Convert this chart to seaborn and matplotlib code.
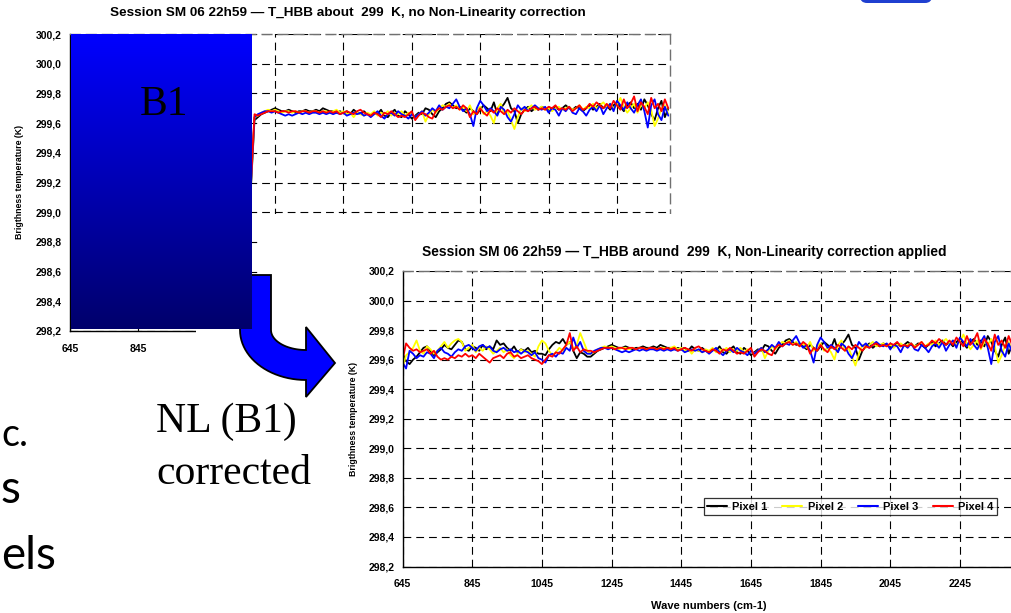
import numpy as np
import pandas as pd
import matplotlib
matplotlib.use('Agg')
import matplotlib.pyplot as plt
import seaborn as sns
from matplotlib.patches import Rectangle, Polygon, FancyBboxPatch
from matplotlib.transforms import Affine2D
from matplotlib.ticker import FuncFormatter, FixedLocator, MultipleLocator

sns.set_style('white')
plt.rcParams['font.family'] = ['Liberation Sans', 'DejaVu Sans']
plt.rcParams['font.weight'] = 'bold'
plt.rcParams['text.color'] = 'black'
plt.rcParams['xtick.color'] = 'black'
plt.rcParams['ytick.color'] = 'black'

W, H = 1011, 613

# wave numbers (cm-1): band B1 then B2
wn_b1 = list(range(645, 1176, 10))
wn_b2 = list(range(1185, 2396, 10))

pixels = ['Pixel 1', 'Pixel 2', 'Pixel 3', 'Pixel 4']
colors = ['#000000', '#ffff00', '#0000ff', '#ff0000']

# B1, no non-linearity correction (mostly hidden behind the B1 panel)
raw_p1 = [298.52, 298.48, 298.55, 298.58, 298.56, 298.61, 298.63, 298.60, 298.66, 298.68,
          298.67, 298.71, 298.73, 298.70, 298.75, 298.77, 298.76, 298.79, 298.81, 298.80,
          298.83, 298.85, 298.84, 298.87, 298.89, 298.88, 298.91, 298.90, 298.93, 298.94,
          298.92, 298.95, 298.97, 298.96, 298.99, 299.00, 298.98, 299.02, 299.03, 299.01,
          299.04, 299.06, 299.05, 299.08, 299.07, 299.10, 299.12, 299.09, 299.13, 299.15,
          299.14, 299.17, 299.16, 299.18]
raw_p2 = [298.44, 298.50, 298.53, 298.51, 298.57, 298.59, 298.58, 298.62, 298.64, 298.63,
          298.68, 298.69, 298.72, 298.71, 298.74, 298.76, 298.78, 298.77, 298.80, 298.82,
          298.81, 298.84, 298.86, 298.85, 298.88, 298.90, 298.89, 298.92, 298.91, 298.94,
          298.95, 298.93, 298.97, 298.98, 298.97, 299.01, 299.00, 299.03, 299.04, 299.06,
          299.05, 299.08, 299.07, 299.09, 299.11, 299.10, 299.13, 299.14, 299.12, 299.16,
          299.17, 299.15, 299.18, 299.19]
raw_p3 = [298.50, 298.47, 298.53, 298.56, 298.55, 298.58, 298.62, 298.61, 298.64, 298.66,
          298.69, 298.68, 298.72, 298.74, 298.73, 298.76, 298.78, 298.80, 298.79, 298.82,
          298.84, 298.83, 298.86, 298.88, 298.87, 298.90, 298.92, 298.91, 298.94, 298.95,
          298.94, 298.97, 298.96, 298.99, 299.01, 299.00, 299.02, 299.04, 299.03, 299.06,
          299.07, 299.05, 299.09, 299.08, 299.11, 299.12, 299.10, 299.14, 299.15, 299.13,
          299.16, 299.18, 299.17, 299.20]
raw_p4 = [298.58, 298.54, 298.57, 298.60, 298.62, 298.59, 298.64, 298.66, 298.65, 298.69,
          298.70, 298.72, 298.71, 298.75, 298.77, 298.76, 298.79, 298.81, 298.83, 298.82,
          298.85, 298.87, 298.86, 298.89, 298.91, 298.90, 298.93, 298.95, 298.94, 298.96,
          298.97, 298.99, 298.98, 299.01, 299.02, 299.00, 299.04, 299.05, 299.07, 299.06,
          299.08, 299.10, 299.09, 299.12, 299.13, 299.11, 299.14, 299.16, 299.15, 299.17,
          299.18, 299.16, 299.19, 299.22]

# B1, non-linearity correction applied
nl_p1 = [299.64, 299.59, 299.57, 299.60, 299.62, 299.65, 299.68, 299.69, 299.66, 299.63,
         299.65, 299.67, 299.70, 299.68, 299.67, 299.70, 299.73, 299.72, 299.67, 299.66,
         299.69, 299.68, 299.66, 299.70, 299.67, 299.69, 299.67, 299.73, 299.70, 299.71,
         299.68, 299.66, 299.69, 299.65, 299.67, 299.66, 299.68, 299.65, 299.66, 299.64,
         299.64, 299.63, 299.67, 299.70, 299.72, 299.71, 299.74, 299.70, 299.72, 299.66,
         299.61, 299.65, 299.64, 299.62]
nl_p2 = [299.55, 299.63, 299.65, 299.68, 299.73, 299.66, 299.64, 299.69, 299.67, 299.64,
         299.66, 299.69, 299.72, 299.68, 299.71, 299.73, 299.74, 299.72, 299.66, 299.68,
         299.70, 299.65, 299.68, 299.66, 299.69, 299.67, 299.64, 299.66, 299.68, 299.65,
         299.67, 299.63, 299.61, 299.64, 299.67, 299.65, 299.66, 299.64, 299.62, 299.69,
         299.73, 299.71, 299.66, 299.63, 299.65, 299.68, 299.66, 299.70, 299.72, 299.67,
         299.70, 299.78, 299.72, 299.66]
nl_p3 = [299.58, 299.54, 299.66, 299.64, 299.61, 299.63, 299.62, 299.65, 299.64, 299.61,
         299.66, 299.68, 299.65, 299.64, 299.62, 299.65, 299.67, 299.66, 299.69, 299.70,
         299.68, 299.66, 299.69, 299.70, 299.68, 299.69, 299.66, 299.65, 299.67, 299.68,
         299.66, 299.67, 299.65, 299.66, 299.64, 299.66, 299.65, 299.63, 299.65, 299.61,
         299.60, 299.58, 299.63, 299.64, 299.62, 299.65, 299.64, 299.68, 299.66, 299.75,
         299.68, 299.72, 299.66, 299.64]
nl_p4 = [299.60, 299.71, 299.68, 299.66, 299.67, 299.65, 299.66, 299.67, 299.64, 299.66,
         299.62, 299.60, 299.61, 299.60, 299.62, 299.61, 299.63, 299.62, 299.64, 299.62,
         299.63, 299.61, 299.64, 299.62, 299.60, 299.58, 299.61, 299.62, 299.63, 299.61,
         299.64, 299.65, 299.62, 299.63, 299.61, 299.62, 299.63, 299.61, 299.60, 299.59,
         299.57, 299.60, 299.63, 299.62, 299.65, 299.64, 299.67, 299.70, 299.78, 299.66,
         299.69, 299.65, 299.67, 299.66]

# B2 (same in both sessions)
b2_p1 = [299.62, 299.64, 299.66, 299.67, 299.68, 299.69, 299.70, 299.69, 299.68, 299.68,
         299.69, 299.68, 299.67, 299.68, 299.68, 299.69, 299.68, 299.68, 299.69, 299.68,
         299.70, 299.69, 299.68, 299.68, 299.67, 299.68, 299.67, 299.68, 299.66, 299.69,
         299.67, 299.66, 299.68, 299.66, 299.65, 299.67, 299.66, 299.69, 299.65, 299.64,
         299.67, 299.69, 299.65, 299.64, 299.68, 299.66, 299.63, 299.65, 299.67, 299.66,
         299.70, 299.69, 299.66, 299.64, 299.68, 299.70, 299.73, 299.74, 299.72, 299.70,
         299.71, 299.69, 299.67, 299.70, 299.68, 299.66, 299.69, 299.72, 299.70, 299.68,
         299.74, 299.66, 299.70, 299.73, 299.77, 299.70, 299.68, 299.60, 299.66, 299.69,
         299.71, 299.68, 299.70, 299.69, 299.71, 299.70, 299.69, 299.70, 299.71, 299.69,
         299.70, 299.72, 299.70, 299.69, 299.71, 299.70, 299.68, 299.70, 299.72, 299.69,
         299.71, 299.73, 299.70, 299.72, 299.69, 299.72, 299.74, 299.71, 299.68, 299.72,
         299.74, 299.70, 299.73, 299.69, 299.76, 299.72, 299.66, 299.62, 299.70, 299.75,
         299.64, 299.70]
b2_p2 = [299.64, 299.65, 299.67, 299.68, 299.69, 299.68, 299.69, 299.68, 299.67, 299.68,
         299.68, 299.67, 299.68, 299.67, 299.68, 299.68, 299.67, 299.68, 299.68, 299.67,
         299.68, 299.68, 299.67, 299.68, 299.69, 299.67, 299.68, 299.66, 299.67, 299.64,
         299.67, 299.66, 299.65, 299.67, 299.66, 299.68, 299.65, 299.67, 299.66, 299.68,
         299.65, 299.67, 299.66, 299.68, 299.65, 299.67, 299.66, 299.64, 299.66, 299.68,
         299.61, 299.66, 299.69, 299.67, 299.70, 299.72, 299.71, 299.73, 299.70, 299.72,
         299.69, 299.71, 299.68, 299.72, 299.66, 299.69, 299.71, 299.66, 299.68, 299.65,
         299.60, 299.70, 299.73, 299.66, 299.68, 299.62, 299.56, 299.64, 299.70, 299.68,
         299.70, 299.72, 299.69, 299.70, 299.71, 299.69, 299.70, 299.68, 299.70, 299.71,
         299.69, 299.70, 299.71, 299.69, 299.70, 299.72, 299.69, 299.71, 299.70, 299.73,
         299.70, 299.72, 299.74, 299.71, 299.73, 299.70, 299.72, 299.77, 299.71, 299.67,
         299.70, 299.73, 299.67, 299.72, 299.70, 299.74, 299.69, 299.58, 299.63, 299.70,
         299.72, 299.66]
b2_p3 = [299.64, 299.66, 299.67, 299.68, 299.68, 299.67, 299.68, 299.67, 299.66, 299.65,
         299.66, 299.65, 299.66, 299.67, 299.66, 299.67, 299.66, 299.67, 299.67, 299.66,
         299.67, 299.66, 299.67, 299.66, 299.67, 299.66, 299.67, 299.65, 299.66, 299.67,
         299.66, 299.67, 299.65, 299.66, 299.64, 299.66, 299.68, 299.65, 299.63, 299.66,
         299.67, 299.65, 299.68, 299.66, 299.65, 299.63, 299.66, 299.64, 299.66, 299.68,
         299.65, 299.67, 299.70, 299.68, 299.72, 299.69, 299.71, 299.70, 299.73, 299.76,
         299.71, 299.68, 299.70, 299.66, 299.58, 299.70, 299.75, 299.72, 299.68, 299.70,
         299.68, 299.65, 299.71, 299.69, 299.64, 299.61, 299.66, 299.72, 299.69, 299.71,
         299.68, 299.70, 299.72, 299.70, 299.69, 299.71, 299.67, 299.70, 299.69, 299.65,
         299.70, 299.68, 299.71, 299.67, 299.66, 299.70, 299.68, 299.65, 299.69, 299.71,
         299.68, 299.72, 299.66, 299.70, 299.73, 299.68, 299.75, 299.72, 299.69, 299.74,
         299.70, 299.67, 299.72, 299.76, 299.68, 299.57, 299.72, 299.76, 299.66, 299.62,
         299.71, 299.65]
b2_p4 = [299.66, 299.65, 299.66, 299.67, 299.68, 299.68, 299.68, 299.67, 299.68, 299.68,
         299.67, 299.68, 299.68, 299.67, 299.68, 299.68, 299.67, 299.68, 299.68, 299.67,
         299.68, 299.67, 299.68, 299.67, 299.68, 299.66, 299.67, 299.68, 299.67, 299.66,
         299.68, 299.69, 299.67, 299.66, 299.65, 299.67, 299.66, 299.64, 299.67, 299.66,
         299.68, 299.66, 299.64, 299.65, 299.64, 299.66, 299.68, 299.62, 299.65, 299.67,
         299.66, 299.64, 299.63, 299.68, 299.70, 299.69, 299.71, 299.72, 299.70, 299.71,
         299.69, 299.72, 299.70, 299.64, 299.68, 299.66, 299.70, 299.67, 299.65, 299.69,
         299.67, 299.70, 299.68, 299.66, 299.69, 299.67, 299.70, 299.68, 299.66, 299.69,
         299.68, 299.70, 299.71, 299.69, 299.70, 299.69, 299.71, 299.70, 299.72, 299.69,
         299.70, 299.69, 299.71, 299.68, 299.70, 299.72, 299.69, 299.70, 299.73, 299.71,
         299.74, 299.72, 299.70, 299.73, 299.70, 299.75, 299.72, 299.69, 299.76, 299.70,
         299.73, 299.78, 299.68, 299.74, 299.71, 299.66, 299.77, 299.70, 299.73, 299.68,
         299.76, 299.70]

xticks = [645, 845, 1045, 1245, 1445, 1645, 1845, 2045, 2245, 2445]

title_top = 'Session SM 06 22h59 \u2014 T_HBB about  299  K, no Non-Linearity correction'
title_bot = 'Session SM 06 22h59 \u2014 T_HBB around  299  K, Non-Linearity correction applied'
ylab = 'Brigthness temperature (K)'
xlab = 'Wave numbers (cm-1)'


def long_frame(b1_lists):
    parts = []
    for name, b1, b2 in zip(pixels, b1_lists, [b2_p1, b2_p2, b2_p3, b2_p4]):
        parts.append(pd.DataFrame({'wn': wn_b1 + wn_b2, 'tb': b1 + b2, 'pixel': name}))
    return pd.concat(parts, ignore_index=True)


df_top = long_frame([raw_p1, raw_p2, raw_p3, raw_p4])
df_bot = long_frame([nl_p1, nl_p2, nl_p3, nl_p4])

fig = plt.figure(figsize=(W / 100, H / 100), dpi=100)
fig.patch.set_facecolor('white')
px = Affine2D().scale(1 / W, -1 / H).translate(0, 1) + fig.transFigure


def rect(x0, y0, x1, y1):
    return [x0 / W, 1 - y1 / H, (x1 - x0) / W, (y1 - y0) / H]


def style_axes(ax):
    ax.set_xlim(645, 2400)
    ax.set_ylim(298.2, 300.2)
    ax.xaxis.set_major_locator(FixedLocator(xticks))
    ax.yaxis.set_major_locator(MultipleLocator(0.2))
    ax.yaxis.set_major_formatter(FuncFormatter(lambda v, p: f'{v:.1f}'.replace('.', ',')))
    ax.grid(True, color='black', linestyle=(0, (7, 4.5)), linewidth=0.8)
    ax.set_axisbelow(True)
    for s in ['left', 'bottom']:
        ax.spines[s].set_color('black')
        ax.spines[s].set_linewidth(1.0)
    for s in ['top', 'right']:
        ax.spines[s].set_color('#707070')
        ax.spines[s].set_linestyle((0, (7, 4.5)))
        ax.spines[s].set_linewidth(1.0)
    ax.tick_params(axis='both', direction='out', length=3, width=0.8, color='black',
                   labelcolor='black', labelsize=7.5, pad=3)
    ax.tick_params(axis='x', pad=6)
    ax.set_xlabel('')
    ax.set_ylabel('')
    ax.set_facecolor('white')


ax_top = fig.add_axes(rect(69.8, 34, 670, 331))
sns.lineplot(data=df_top, x='wn', y='tb', hue='pixel', palette=colors, linewidth=1.3,
             errorbar=None, legend=False, ax=ax_top)
style_axes(ax_top)
ax_top.set_zorder(0)

# white background of the second chart covering the first one
for r in [(258, 214, 1011, 613), (196, 329, 258, 613)]:
    fig.add_artist(Rectangle((r[0], r[1]), r[2] - r[0], r[3] - r[1], facecolor='white',
                             edgecolor='none', transform=px, zorder=1))

ax_bot = fig.add_axes(rect(402.6, 271, 1013.9, 566.5))
sns.lineplot(data=df_bot, x='wn', y='tb', hue='pixel', palette=colors, linewidth=1.3,
             errorbar=None, legend=False, ax=ax_bot)
style_axes(ax_bot)
ax_bot.set_zorder(2)
leg = ax_bot.legend(ax_bot.lines[:4], pixels, ncol=4, loc='center',
                    bbox_to_anchor=(850.3 / W, 1 - 506.7 / H), bbox_transform=fig.transFigure,
                    frameon=True, fancybox=False, fontsize=8, handlelength=1.8,
                    handletextpad=0.5, columnspacing=1.3, borderpad=0.3)
leg.get_frame().set_edgecolor('black')
leg.get_frame().set_linewidth(0.9)
for ln in leg.get_lines():
    ln.set_linewidth(1.5)

# titles and axis labels
fig.text(348, 13.3, title_top, transform=px, ha='center', va='center', fontsize=9.7)
fig.text(684.5, 251.7, title_bot, transform=px, ha='center', va='center', fontsize=9.9)
fig.text(20, 182, ylab, transform=px, rotation=90, ha='center', va='center', fontsize=6.3)
fig.text(354, 419, ylab, transform=px, rotation=90, ha='center', va='center', fontsize=6.3)
fig.text(709, 606, xlab, transform=px, ha='center', va='center', fontsize=8)

# curved arrow
t = np.linspace(0, np.pi / 2, 24)
inner = [(306 - 35 * np.cos(a), 330 + 20 * np.sin(a)) for a in t]
outer = [(306 - 66 * np.cos(a), 330 + 50 * np.sin(a)) for a in t[::-1]]
pts = [(240, 275), (271, 275)] + inner + [(306, 327), (335, 363), (306, 397)] + outer
fig.add_artist(Polygon(pts, closed=True, facecolor='#0000ff', edgecolor='black',
                       linewidth=1.3, transform=px, zorder=3))

# B1 gradient panel
ax_panel = fig.add_axes(rect(70.5, 34, 251.5, 329.5))
grad = np.zeros((256, 1, 3))
grad[:, 0, 2] = np.linspace(1.0, 0.42, 256)
ax_panel.imshow(grad, aspect='auto', interpolation='bilinear')
ax_panel.axis('off')
ax_panel.set_zorder(4)

serif = ['Liberation Serif', 'DejaVu Serif']
sans = ['Lato', 'DejaVu Sans']
fig.text(164, 115, 'B1', transform=px, ha='center', va='baseline', fontsize=30,
         family=serif, fontweight='normal', color='black', zorder=5)

# slide text
fig.text(156, 432, 'NL (B1)', transform=px, ha='left', va='baseline', fontsize=30,
         family=serif, fontweight='normal', zorder=5)
fig.text(156, 484, 'corrected', transform=px, ha='left', va='baseline', fontsize=30,
         family=serif, fontweight='normal', zorder=5)
fig.text(1, 446, 'c.', transform=px, ha='left', va='baseline', fontsize=27,
         family=sans, fontweight='normal', zorder=5)
fig.text(1, 503, 's', transform=px, ha='left', va='baseline', fontsize=33,
         family=sans, fontweight='normal', zorder=5)
fig.text(1, 569, 'els', transform=px, ha='left', va='baseline', fontsize=33,
         family=sans, fontweight='normal', zorder=5)

# logo edge at top right
fig.add_artist(FancyBboxPatch((860, -14), 72, 17, boxstyle='round,pad=0,rounding_size=7',
                              facecolor='#1f3fd0', edgecolor='none', transform=px, zorder=5))

fig.savefig('out.png', dpi=100, facecolor='white')
